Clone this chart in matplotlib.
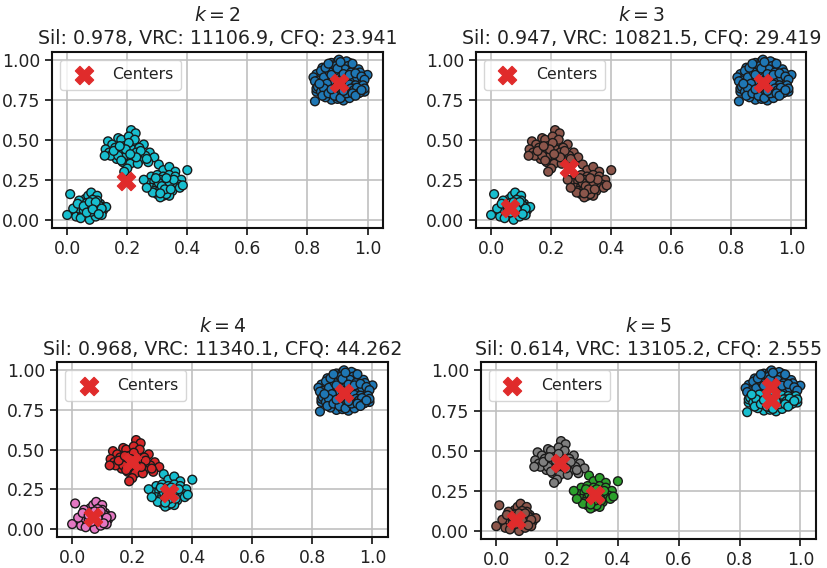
import numpy as np
import matplotlib
matplotlib.use("Agg")
import matplotlib.pyplot as plt

# cluster A (upper right), split in an upper and a lower half
a_top_x = [0.84, 0.86, 0.88, 0.90, 0.92, 0.94, 0.96, 0.98, 0.85, 0.87, 0.89, 0.91, 0.93, 0.95, 0.97,
           0.83, 0.86, 0.88, 0.90, 0.92, 0.94, 0.96, 0.87, 0.89, 0.91, 0.93, 0.95, 0.88, 0.90, 0.92,
           0.94, 0.89, 0.91, 0.905, 0.93, 0.85, 0.99, 1.00, 0.87, 0.95, 0.82, 0.97, 0.915, 0.885, 0.935,
           0.835, 0.845, 0.855, 0.875, 0.895, 0.925, 0.945, 0.965, 0.975, 0.985, 0.86, 0.88, 0.90,
           0.92, 0.94, 0.96, 0.87, 0.91, 0.95, 0.98, 0.825, 0.99]
a_top_y = [0.87, 0.88, 0.87, 0.86, 0.87, 0.88, 0.87, 0.88, 0.90, 0.91, 0.90, 0.89, 0.91, 0.90, 0.91,
           0.91, 0.93, 0.94, 0.92, 0.93, 0.94, 0.93, 0.96, 0.95, 0.97, 0.96, 0.95, 0.98, 0.99, 0.97,
           0.98, 0.93, 0.95, 1.00, 0.99, 0.95, 0.90, 0.905, 0.86, 0.86, 0.89, 0.94, 0.88, 0.88, 0.96,
           0.87, 0.93, 0.89, 0.92, 0.96, 0.94, 0.92, 0.89, 0.92, 0.87, 0.95, 0.905, 0.945, 0.91,
           0.905, 0.915, 0.975, 0.985, 0.975, 0.895, 0.865, 0.875]
a_bot_x = [0.84, 0.86, 0.88, 0.90, 0.92, 0.94, 0.96, 0.98, 0.85, 0.87, 0.89, 0.91, 0.93, 0.95, 0.97,
           0.83, 0.86, 0.88, 0.90, 0.92, 0.94, 0.96, 0.87, 0.89, 0.91, 0.93, 0.95, 0.88, 0.90, 0.92,
           0.94, 0.89, 0.91, 0.825, 0.86, 0.97, 0.99, 0.83, 0.905, 0.875, 0.925, 0.945, 0.865, 0.985, 0.90,
           0.835, 0.845, 0.855, 0.875, 0.895, 0.915, 0.935, 0.955, 0.965, 0.975, 0.99, 0.85, 0.87,
           0.89, 0.91, 0.93, 0.95, 0.88, 0.92, 0.96, 0.84, 0.98]
a_bot_y = [0.84, 0.83, 0.845, 0.84, 0.835, 0.845, 0.84, 0.83, 0.81, 0.82, 0.80, 0.815, 0.81, 0.82, 0.81,
           0.80, 0.79, 0.78, 0.79, 0.78, 0.79, 0.80, 0.77, 0.76, 0.765, 0.77, 0.775, 0.75, 0.755, 0.745,
           0.76, 0.80, 0.84, 0.74, 0.765, 0.79, 0.80, 0.82, 0.80, 0.805, 0.80, 0.82, 0.85, 0.84, 0.77,
           0.83, 0.80, 0.82, 0.795, 0.825, 0.79, 0.795, 0.81, 0.825, 0.795, 0.82, 0.775, 0.79,
           0.775, 0.76, 0.79, 0.79, 0.815, 0.805, 0.775, 0.85, 0.81]

# cluster B (bottom left)
b_x = [0.01, 0.00, 0.03, 0.04, 0.05, 0.06, 0.07, 0.08, 0.09, 0.10, 0.11, 0.12, 0.03, 0.05, 0.07,
       0.09, 0.11, 0.04, 0.06, 0.08, 0.10, 0.12, 0.05, 0.07, 0.09, 0.06, 0.08, 0.10, 0.04, 0.065,
       0.085, 0.105, 0.075, 0.095, 0.055, 0.02, 0.13, 0.08, 0.115, 0.045, 0.035, 0.055, 0.075,
       0.095, 0.115, 0.065, 0.085, 0.105]
b_y = [0.16, 0.03, 0.05, 0.09, 0.11, 0.13, 0.15, 0.17, 0.13, 0.15, 0.10, 0.08, 0.02, 0.04, 0.06,
       0.08, 0.05, 0.07, 0.09, 0.11, 0.12, 0.06, 0.02, 0.03, 0.04, 0.07, 0.09, 0.07, 0.12, 0.105,
       0.125, 0.09, 0.00, 0.02, 0.06, 0.07, 0.08, 0.05, 0.03, 0.01, 0.10, 0.085, 0.11, 0.11,
       0.07, 0.045, 0.065, 0.035]

# cluster C (upper middle)
c_x = [0.213, 0.228, 0.17, 0.136, 0.15, 0.18, 0.205, 0.225, 0.255, 0.128, 0.16, 0.19, 0.215, 0.24, 0.275,
       0.29, 0.14, 0.175, 0.20, 0.23, 0.26, 0.165, 0.19, 0.215, 0.24, 0.27, 0.185, 0.21, 0.235, 0.20,
       0.19, 0.145, 0.17, 0.225, 0.245, 0.205, 0.155, 0.18, 0.265, 0.125, 0.195, 0.23, 0.21, 0.175]
c_y = [0.56, 0.54, 0.51, 0.49, 0.47, 0.50, 0.52, 0.47, 0.47, 0.44, 0.45, 0.46, 0.44, 0.45, 0.42,
       0.39, 0.42, 0.43, 0.41, 0.42, 0.40, 0.38, 0.39, 0.38, 0.37, 0.36, 0.36, 0.35, 0.35, 0.32,
       0.30, 0.40, 0.40, 0.50, 0.43, 0.48, 0.43, 0.37, 0.38, 0.40, 0.44, 0.39, 0.41, 0.46]

# cluster D (lower middle)
d_x = [0.305, 0.32, 0.34, 0.36, 0.28, 0.30, 0.32, 0.34, 0.36, 0.38, 0.27, 0.29, 0.31, 0.33, 0.35,
       0.37, 0.28, 0.30, 0.32, 0.34, 0.36, 0.29, 0.31, 0.33, 0.35, 0.30, 0.32, 0.34, 0.31, 0.33,
       0.40, 0.255, 0.305, 0.34, 0.375, 0.285, 0.315, 0.325, 0.355, 0.295, 0.345, 0.265, 0.31, 0.33, 0.385]
d_y = [0.345, 0.31, 0.33, 0.30, 0.27, 0.28, 0.27, 0.28, 0.27, 0.25, 0.23, 0.24, 0.25, 0.24, 0.23,
       0.22, 0.20, 0.21, 0.22, 0.20, 0.21, 0.18, 0.19, 0.17, 0.18, 0.16, 0.15, 0.15, 0.14, 0.16,
       0.31, 0.25, 0.23, 0.22, 0.20, 0.17, 0.21, 0.19, 0.25, 0.26, 0.19, 0.20, 0.165, 0.26, 0.215]

ks = [2, 3, 4, 5]
sil = [0.978, 0.947, 0.968, 0.614]
vrc = [11106.9, 10821.5, 11340.1, 13105.2]
cfq = [23.941, 29.419, 44.262, 2.555]

# cluster label of each group (A top, A bottom, B, C, D) for every k
group_labels = {
    2: [0, 0, 1, 1, 1],
    3: [0, 0, 2, 1, 1],
    4: [0, 0, 2, 1, 3],
    5: [0, 4, 2, 3, 1],
}

centers_x = {
    2: [0.195, 0.905],
    3: [0.063, 0.258, 0.905],
    4: [0.068, 0.20, 0.322, 0.905],
    5: [0.065, 0.208, 0.325, 0.905, 0.905],
}
centers_y = {
    2: [0.245, 0.855],
    3: [0.075, 0.322, 0.855],
    4: [0.075, 0.42, 0.225, 0.855],
    5: [0.07, 0.425, 0.225, 0.895, 0.815],
}

groups = [(a_top_x, a_top_y), (a_bot_x, a_bot_y), (b_x, b_y), (c_x, c_y), (d_x, d_y)]

fig = plt.figure(figsize=(8.28, 5.68), dpi=100)
positions = [
    [0.063, 0.599, 0.399, 0.310],
    [0.575, 0.599, 0.399, 0.310],
    [0.069, 0.055, 0.399, 0.307],
    [0.581, 0.051, 0.404, 0.311],
]

center_color = "#e02b2b"

for i, k in enumerate(ks):
    ax = fig.add_axes(positions[i])
    xs, ys, labs = [], [], []
    for (gx, gy), lab in zip(groups, group_labels[k]):
        xs += gx
        ys += gy
        labs += [lab] * len(gx)
    ax.scatter(xs, ys, c=labs, cmap="tab10", s=40, edgecolors="#1a1a1a",
               linewidths=1.0, zorder=2)
    ax.scatter(centers_x[k], centers_y[k], marker="X", s=170, c=center_color,
               label="Centers", zorder=3)
    ax.set_xlim(-0.05, 1.05)
    ax.set_ylim(-0.05, 1.05)
    ax.set_xticks([0.0, 0.2, 0.4, 0.6, 0.8, 1.0])
    ax.set_yticks([0.0, 0.25, 0.5, 0.75, 1.0])
    ax.set_yticklabels(["0.00", "0.25", "0.50", "0.75", "1.00"])
    ax.tick_params(labelsize=12.4, width=1.3, length=5, color="#222222", labelcolor="#222222")
    ax.grid(True, color="#c0c0c0", linewidth=1.2, zorder=0)
    ax.set_axisbelow(True)
    for sp in ax.spines.values():
        sp.set_linewidth(1.5)
        sp.set_color("#111111")
    ax.set_title(f"$k = {k}$\nSil: {sil[i]:.3f}, VRC: {vrc[i]:.1f}, CFQ: {cfq[i]:.3f}",
                 fontsize=13.6, color="#222222")
    ax.legend(loc="upper left", fontsize=11.3, borderpad=0.5, labelcolor="#222222")

fig.savefig("out.png", dpi=100)
